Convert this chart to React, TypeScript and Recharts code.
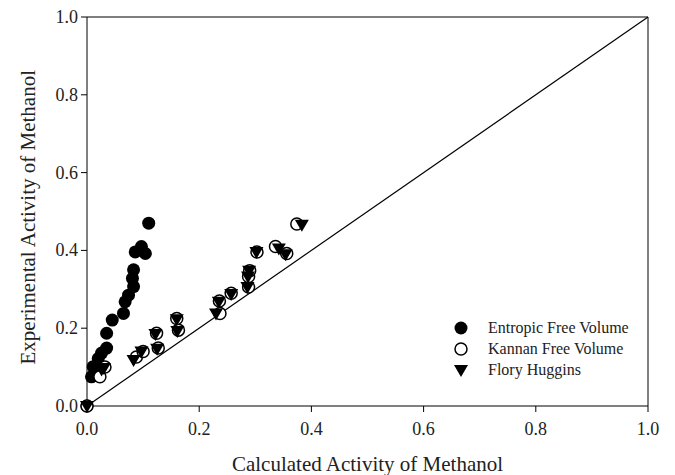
import { ScatterChart, Scatter, XAxis, YAxis, ReferenceLine } from 'recharts';

// calculated vs experimental activity of methanol, one list per model
const entropicFreeVolume = [
  [0.0, 0.0], [0.008, 0.075], [0.011, 0.101], [0.02, 0.122], [0.026, 0.136],
  [0.035, 0.149], [0.035, 0.187], [0.045, 0.221], [0.065, 0.238], [0.068, 0.268],
  [0.074, 0.285], [0.083, 0.307], [0.081, 0.328], [0.083, 0.35], [0.086, 0.396],
  [0.097, 0.41], [0.104, 0.392], [0.11, 0.47],
];

const kannanFreeVolume = [
  [0.0, 0.0], [0.023, 0.075], [0.032, 0.1], [0.088, 0.126], [0.1, 0.14],
  [0.127, 0.149], [0.124, 0.187], [0.163, 0.195], [0.16, 0.225], [0.237, 0.238],
  [0.236, 0.27], [0.257, 0.29], [0.288, 0.306], [0.288, 0.333], [0.29, 0.348],
  [0.303, 0.396], [0.336, 0.41], [0.356, 0.392], [0.374, 0.468],
];

const floryHuggins = [
  [0.0, 0.0], [0.026, 0.094], [0.03, 0.098], [0.083, 0.118], [0.097, 0.14],
  [0.125, 0.147], [0.122, 0.185], [0.161, 0.193], [0.16, 0.223], [0.23, 0.238],
  [0.235, 0.268], [0.257, 0.288], [0.286, 0.306], [0.287, 0.333], [0.289, 0.348],
  [0.302, 0.396], [0.342, 0.405], [0.354, 0.39], [0.383, 0.466],
];

const ticks = [0, 0.2, 0.4, 0.6, 0.8, 1.0];

const toPoints = (rows: number[][]) => rows.map(([x, y]) => ({ x, y }));

const FONT = '"Liberation Serif", "Times New Roman", serif';
const TEXT = '#222';

const FilledCircle = ({ cx, cy }: any) => <circle cx={cx} cy={cy} r={6.5} fill="#000" />;
const OpenCircle = ({ cx, cy }: any) => (
  <circle cx={cx} cy={cy} r={6} fill="#fff" stroke="#000" strokeWidth={1.5} />
);
const DownTriangle = ({ cx, cy }: any) => (
  <path d={`M${cx - 7},${cy - 5} L${cx + 7},${cy - 5} L${cx},${cy + 7} Z`} fill="#000" />
);

const XTick = ({ x, y, payload }: any) => (
  <text x={x} y={y + 21} textAnchor="middle" fill={TEXT} fontSize={18} fontFamily={FONT}>
    {Number(payload.value).toFixed(1)}
  </text>
);

const YTick = ({ x, y, payload }: any) => (
  <text x={x - 1} y={y + 6} textAnchor="end" fill={TEXT} fontSize={18} fontFamily={FONT}>
    {Number(payload.value).toFixed(1)}
  </text>
);

const legendItems = [
  { name: 'Entropic Free Volume', Icon: FilledCircle },
  { name: 'Kannan Free Volume', Icon: OpenCircle },
  { name: 'Flory Huggins', Icon: DownTriangle },
];

const LegendBox = () => (
  <div style={{ position: 'absolute', left: 452, top: 317, fontFamily: FONT, fontSize: 16, color: TEXT }}>
    {legendItems.map(({ name, Icon }) => (
      <div key={name} style={{ display: 'flex', alignItems: 'center', height: 21 }}>
        <svg width={20} height={16} style={{ marginRight: 16 }}>
          <Icon cx={9} cy={8} />
        </svg>
        {name}
      </div>
    ))}
  </div>
);

export default function App() {
  return (
    <div style={{ position: 'absolute', left: 0, top: 0, width: 675, height: 475, background: '#fff', fontFamily: FONT }}>
      <ScatterChart width={675} height={475} margin={{ top: 17, right: 27, left: 27, bottom: 19 }}>
        <XAxis
          type="number"
          dataKey="x"
          domain={[0, 1]}
          ticks={ticks}
          height={50}
          stroke="#000"
          tickSize={6}
          tick={<XTick />}
          label={{ value: 'Calculated Activity of Methanol', position: 'insideBottom', offset: -15, fill: TEXT, fontSize: 21, fontFamily: FONT }}
        />
        <YAxis
          type="number"
          dataKey="y"
          domain={[0, 1]}
          ticks={ticks}
          width={60}
          stroke="#000"
          tickSize={6}
          tick={<YTick />}
          label={{ value: 'Experimental Activity of Methanol', angle: -90, position: 'insideLeft', offset: 1, dy: 153, fill: TEXT, fontSize: 21, fontFamily: FONT }}
        />
        <ReferenceLine y={1} stroke="#000" />
        <ReferenceLine x={1} stroke="#000" />
        <ReferenceLine segment={[{ x: 0, y: 0 }, { x: 1, y: 1 }]} stroke="#000" strokeWidth={1.2} />
        <Scatter name="Entropic Free Volume" data={toPoints(entropicFreeVolume)} shape={FilledCircle} isAnimationActive={false} />
        <Scatter name="Kannan Free Volume" data={toPoints(kannanFreeVolume)} shape={OpenCircle} isAnimationActive={false} />
        <Scatter name="Flory Huggins" data={toPoints(floryHuggins)} shape={DownTriangle} isAnimationActive={false} />
      </ScatterChart>
      <LegendBox />
    </div>
  );
}
